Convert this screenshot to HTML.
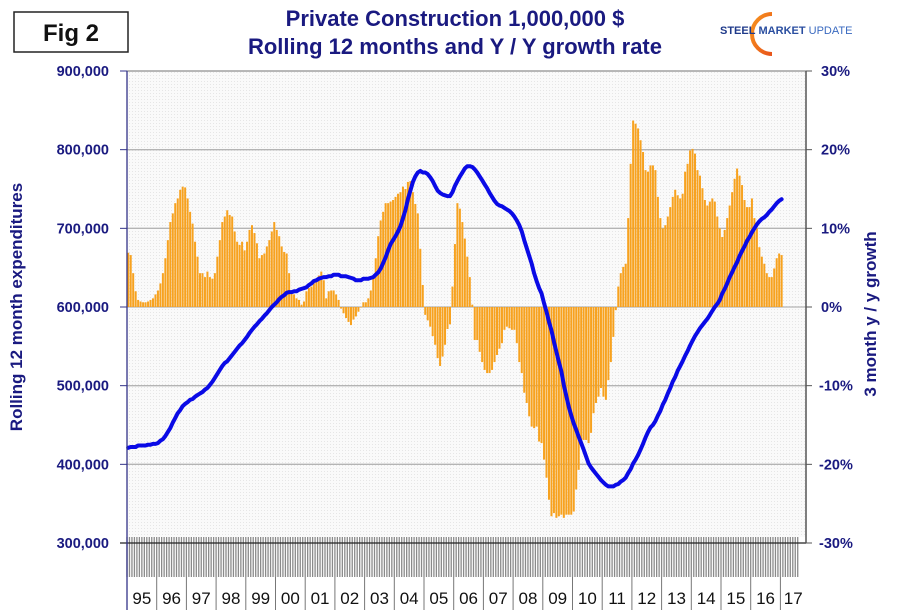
<!DOCTYPE html>
<html><head><meta charset="utf-8"><style>
body{margin:0;background:#fff;width:902px;height:614px;overflow:hidden;font-family:"Liberation Sans",sans-serif}
svg{display:block}
</style></head><body>
<svg id="chart" width="902" height="614" viewBox="0 0 902 614" xmlns="http://www.w3.org/2000/svg">
<defs>
<pattern id="dots" width="3" height="3" patternUnits="userSpaceOnUse"><rect width="3" height="3" fill="#fafafa"/><rect width="1" height="1" fill="#e6e6e6"/></pattern>
<linearGradient id="arc" x1="0" y1="0" x2="1" y2="1"><stop offset="0" stop-color="#f7931e"/><stop offset="1" stop-color="#e8541a"/></linearGradient>
</defs>
<rect x="127" y="71" width="679" height="472" fill="url(#dots)"/>
<g id="grid"></g>
<g id="bars"></g>
<g id="line"></g>
<g id="axes"></g>
<rect x="14" y="12" width="114" height="40" fill="#fff" stroke="#222" stroke-width="1.5"/>
<text x="71" y="41" text-anchor="middle" font-size="24" font-weight="bold" fill="#111">Fig 2</text>
<text x="455" y="26" text-anchor="middle" font-size="22" font-weight="bold" fill="#1a1a80">Private Construction 1,000,000 $</text>
<text x="455" y="54" text-anchor="middle" font-size="22" font-weight="bold" fill="#1a1a80">Rolling 12 months and Y / Y growth rate</text>
<g>
<path d="M772 14 A20 20 0 1 0 772 54" fill="none" stroke="url(#arc)" stroke-width="4"/>
<text x="720" y="34" font-size="11" fill="#1f3a8a"><tspan font-weight="bold">STEEL</tspan> <tspan font-weight="bold" fill="#2a4ea0">MARKET</tspan> <tspan fill="#3a6ac0">UPDATE</tspan></text>
</g>
<text transform="translate(22,307) rotate(-90)" text-anchor="middle" font-size="17" font-weight="bold" fill="#1a1a80">Rolling 12 month expenditures</text>
<text transform="translate(876,314) rotate(-90)" text-anchor="middle" font-size="17" font-weight="bold" fill="#1a1a80">3 month y / y growth</text>
</svg>
<script>
const years = ["95","96","97","98","99","00","01","02","03","04","05","06","07","08","09","10","11","12","13","14","15","16","17"];
const leftTicks = [300000,400000,500000,600000,700000,800000,900000];
const leftTickLabels = ["300,000","400,000","500,000","600,000","700,000","800,000","900,000"];
const rightTicks = [-30,-20,-10,0,10,20,30];
const rightTickLabels = ["-30%","-20%","-10%","0%","10%","20%","30%"];
const growth = [
6.9,6.6,4.3,2.0,0.9,0.7,0.6,0.6,0.7,0.9,1.1,1.6,
2.1,3.0,4.3,6.2,8.5,10.8,11.9,13.2,13.8,14.9,15.3,15.2,
13.8,12.1,10.6,8.3,6.4,4.3,4.3,3.8,4.5,3.8,3.6,4.3,
6.4,8.5,10.8,11.5,12.3,11.7,11.5,9.6,8.3,7.9,8.3,7.2,
8.3,9.8,10.4,9.4,8.1,6.2,6.6,6.8,7.7,8.5,9.6,10.8,
9.8,9.0,7.7,7.0,6.8,4.3,2.0,1.6,1.1,0.9,0.3,0.7,
2.0,2.4,2.6,3.0,3.2,4.0,4.5,3.4,1.1,2.0,2.1,2.1,
1.6,0.9,-0.2,-0.8,-1.4,-1.9,-2.3,-1.6,-1.2,-0.6,0.0,0.6,
0.6,1.1,2.1,3.8,6.2,9.0,11.0,12.1,13.2,13.2,13.4,13.6,
14.0,14.4,14.6,15.3,15.0,15.9,16.0,14.6,13.1,11.9,7.4,2.8,
-1.0,-1.7,-2.5,-3.7,-4.8,-6.5,-7.5,-6.3,-4.8,-2.8,-2.2,2.6,
8.0,13.2,12.5,10.8,8.7,6.4,3.8,0.3,
-4.2,-4.2,-5.7,-7.0,-8.0,-8.4,-8.4,-8.0,-7.0,-6.1,-5.3,-4.6,-2.9,-2.5,-2.7,-2.9,-2.9,-4.6,-7.0,-8.4,
-10.9,-12.2,-13.9,-15.2,-15.4,-15.2,-17.1,-17.3,-19.4,-21.7,-24.5,-26.6,-26.2,-26.8,-26.6,-26.4,-26.8,-26.4,-26.4,-26.4,
-26.0,-23.2,-20.7,-17.3,-16.9,-16.9,-17.3,-16.0,-13.5,-12.2,-11.4,-10.3,-11.4,-11.8,-9.3,-7.0,-3.8,-0.4,
2.6,4.3,5.1,5.5,11.3,18.2,23.7,23.3,22.7,21.2,19.7,17.4,17.2,18.0,18.0,17.4,14.0,11.3,10.0,10.4,
11.5,12.7,14.0,14.9,14.2,13.8,14.4,17.2,18.2,19.9,20.1,19.5,17.4,16.7,15.1,13.6,12.9,13.4,13.8,13.4,
11.5,10.0,8.9,9.8,11.3,12.9,14.6,16.3,17.6,16.7,15.5,13.6,12.7,12.7,13.8,11.3,10.0,7.6,6.4,5.5,
4.3,3.8,3.8,4.9,6.2,6.8,6.6];
const rolling12 = [
421,422,422,422,424,424,424,424,425,425,426,426,
427,430,432,436,441,446,453,459,465,469,474,477,
479,482,483,486,488,490,492,495,497,501,505,510,
515,520,525,529,531,535,539,543,547,551,554,558,
562,567,571,575,578,582,585,589,592,596,600,603,
606,610,613,615,618,619,619,620,620,622,623,624,
625,628,630,633,634,636,637,638,638,639,639,641,
641,641,639,639,639,638,637,636,634,634,634,636,
636,636,637,638,641,644,649,656,663,672,680,685,
690,696,703,713,723,737,748,759,766,771,773,771,
771,769,765,760,754,748,745,743,742,741,741,746,
754,760,766,771,776,779,779,778,775,771,766,761,
756,751,745,740,735,731,729,728,726,724,722,719,
715,710,704,696,685,675,665,655,643,633,624,617,
605,594,581,570,556,543,530,518,501,487,473,462,
452,444,435,427,419,410,401,396,392,388,384,380,
377,374,372,372,372,374,375,378,380,383,389,394,
401,406,412,419,426,434,441,447,450,455,462,468,
476,482,490,497,505,511,519,525,531,538,544,551,
557,563,568,573,577,581,585,590,595,600,604,609,
617,623,630,638,644,651,657,665,671,677,684,689,
695,700,705,709,712,714,717,721,724,728,732,735,737];

const NS="http://www.w3.org/2000/svg";
const X0=127, X1=806, YT=71, YB=543, MW=2.475;
const yL=v=>YB-(v-300000)/600000*(YB-YT);
const yR=p=>YB-(p+30)/60*(YB-YT);
const xM=i=>X0+(i+0.5)*MW;
function mk(tag,attrs,parent){const e=document.createElementNS(NS,tag);for(const k in attrs)e.setAttribute(k,attrs[k]);parent.appendChild(e);return e;}
const grid=document.getElementById('grid'), bars=document.getElementById('bars'), line=document.getElementById('line'), axes=document.getElementById('axes');

leftTicks.forEach((t,i)=>{
  const y=yL(t);
  if(i>0){const g=mk('line',{x1:X0,x2:X1,y1:y,y2:y,stroke:'#b4b4b4','stroke-width':1.3},grid);
  
  }
  const tk=mk('line',{x1:120,x2:X0,y1:y,y2:y,stroke:'#333388','stroke-width':1},axes);
  
  
  const lb=mk('text',{x:109,y:y+5,'text-anchor':'end','font-size':14.5,'font-weight':'bold',fill:'#1a1a80'},axes);
  lb.textContent=leftTickLabels[i];
  
  
});
rightTicks.forEach((t,i)=>{
  const y=yR(t);
  const tk=mk('line',{x1:X1,x2:812,y1:y,y2:y,stroke:'#555','stroke-width':1},axes);
  
  
  const lb=mk('text',{x:t<0?819:821,y:y+5,'font-size':14.5,'font-weight':'bold',fill:'#1a1a80'},axes);
  lb.textContent=rightTickLabels[i];
  
  
});

growth.forEach((g,i)=>{
  const y0=yR(0), y=yR(g);
  const r=mk('rect',{x:xM(i)-1,y:Math.min(y,y0),width:2,height:Math.max(0.5,Math.abs(y-y0)),fill:'#f7a21f'},bars);
  
  
});

let d='';
rolling12.forEach((v,i)=>{d+=(i?'L':'M')+xM(i).toFixed(1)+' '+yL(v*1000).toFixed(1)+' ';});
const p=mk('path',{d:d,fill:'none',stroke:'#0a0ae6','stroke-width':4,'stroke-linejoin':'round','stroke-linecap':'round'},line);



// category band
const band=mk('rect',{x:X0,y:537,width:X1-X0,height:40,fill:'#fff'},axes);


for(let i=0;i<=growth.length+6;i++){
  const x=X0+i*MW; if(x>X1)break;
  const t=mk('line',{x1:x,x2:x,y1:537,y2:577,stroke:'#8a8a8a','stroke-width':1.3},axes);
  
  
}
const base=mk('line',{x1:X0-7,x2:X1,y1:YB,y2:YB,stroke:'#222','stroke-width':1.3},axes);


const topB=mk('line',{x1:X0,x2:X1,y1:YT,y2:YT,stroke:'#999','stroke-width':1.3},axes);


const la=mk('line',{x1:X0,x2:X0,y1:YT,y2:610,stroke:'#333388','stroke-width':1.3},axes);


const ra=mk('line',{x1:X1,x2:X1,y1:YT,y2:YB,stroke:'#555','stroke-width':1.5},axes);


years.forEach((yr,i)=>{
  const xs=X0+i*12*MW;
  if(i>0){const s=mk('line',{x1:xs,x2:xs,y1:577,y2:610,stroke:'#777','stroke-width':1},axes);
  
  }
  const xc=Math.min(xs+6*MW, (xs+X1)/2+ (i===years.length-1?0:0));
  const lb=mk('text',{x:i===years.length-1?(xs+X1)/2:xc,y:604,'text-anchor':'middle','font-size':17,fill:'#111'},axes);
  lb.textContent=yr;
  
  
});
</script>
</body></html>
